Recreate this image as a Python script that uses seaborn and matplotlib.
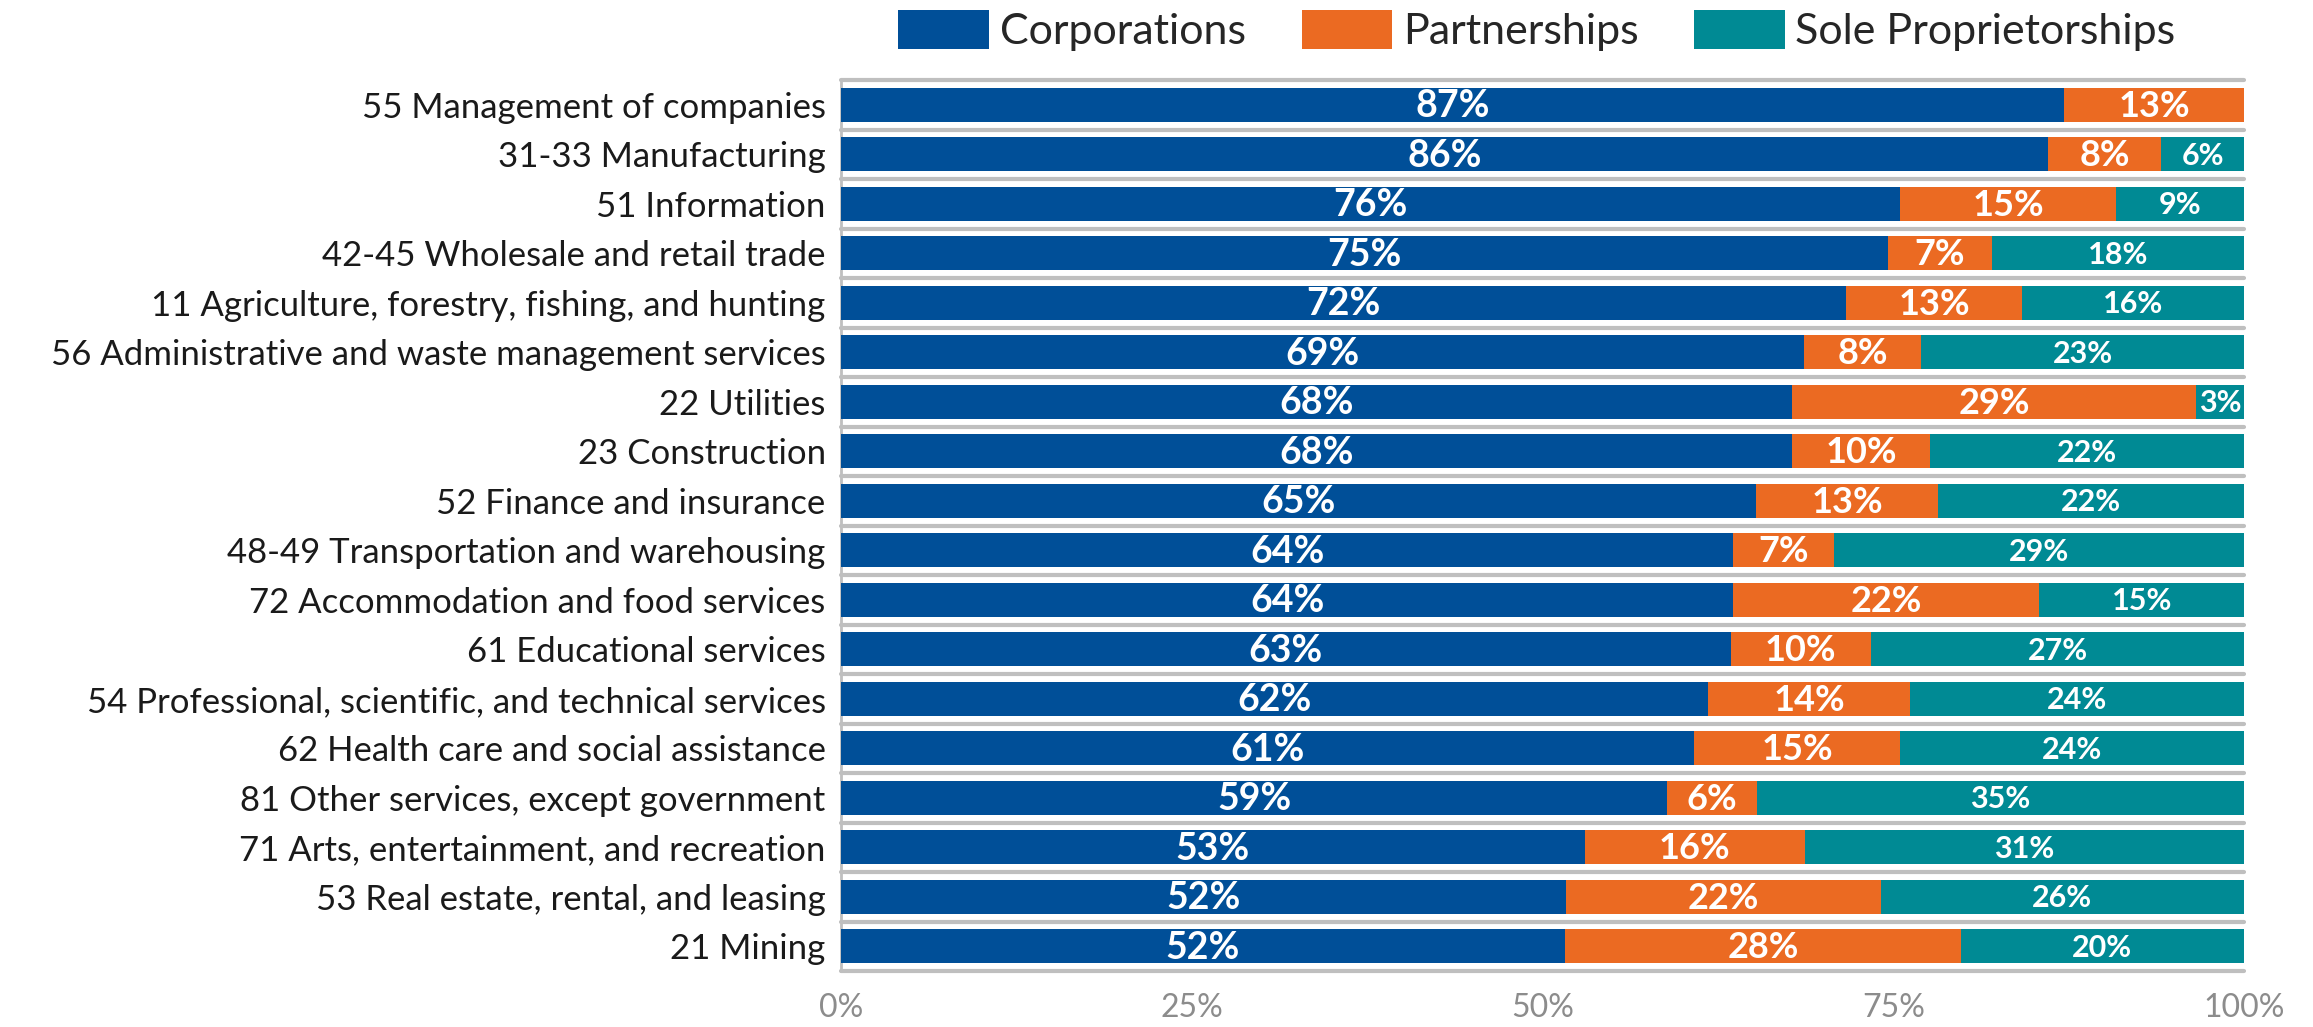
import numpy as np
import pandas as pd
import matplotlib
matplotlib.use("Agg")
import matplotlib.pyplot as plt
import seaborn as sns
from matplotlib.patches import Patch

categories = [
    "55 Management of companies",
    "31-33 Manufacturing",
    "51 Information",
    "42-45 Wholesale and retail trade",
    "11 Agriculture, forestry, fishing, and hunting",
    "56 Administrative and waste management services",
    "22 Utilities",
    "23 Construction",
    "52 Finance and insurance",
    "48-49 Transportation and warehousing",
    "72 Accommodation and food services",
    "61 Educational services",
    "54 Professional, scientific, and technical services",
    "62 Health care and social assistance",
    "81 Other services, except government",
    "71 Arts, entertainment, and recreation",
    "53 Real estate, rental, and leasing",
    "21 Mining",
]
corporations = [87.2, 86.0, 75.5, 74.6, 71.6, 68.6, 67.8, 67.8, 65.2, 63.6, 63.6, 63.4, 61.8, 60.8, 58.9, 53.0, 51.7, 51.6]
partnerships = [12.8, 8.1, 15.4, 7.4, 12.6, 8.4, 28.8, 9.8, 13.0, 7.2, 21.8, 10.0, 14.4, 14.7, 6.4, 15.7, 22.4, 28.2]
sole_props = [0.0, 5.9, 9.1, 18.0, 15.8, 23.0, 3.4, 22.4, 21.8, 29.2, 14.6, 26.6, 23.8, 24.5, 34.7, 31.3, 25.9, 20.2]
series_names = ["Corporations", "Partnerships", "Sole Proprietorships"]
x_ticks = [0, 25, 50, 75, 100]
x_tick_labels = ["0%", "25%", "50%", "75%", "100%"]

colors = ["#004F98", "#EB6A22", "#008A94"]
label_sizes = [27, 26, 22]

sns.set_theme(style="white")
plt.rcParams["font.family"] = ["Lato", "DejaVu Sans"]

df = pd.DataFrame({
    "category": categories,
    "corp": corporations,
    "part": partnerships,
    "sole": sole_props,
})
df["end_corp"] = df["corp"]
df["end_part"] = df["corp"] + df["part"]
df["end_sole"] = df["corp"] + df["part"] + df["sole"]

fig = plt.figure(figsize=(23.13, 10.27), dpi=100)
ax = fig.add_axes([0.3636, 0.0545, 0.9702 - 0.3636, 0.9221 - 0.0545])

bar_h = 0.69
for col, c in zip(["end_sole", "end_part", "end_corp"], colors[::-1]):
    sns.barplot(data=df, x=col, y="category", color=c, orient="h",
                width=bar_h, ax=ax, saturation=1, linewidth=0, zorder=3)

# value labels
for i, row in df.iterrows():
    left = 0.0
    for j, key in enumerate(["corp", "part", "sole"]):
        v = row[key]
        if v > 0.5:
            ax.text(left + v / 2, i + 0.03, f"{round(v)}%", ha="center", va="center",
                    color="white", fontsize=label_sizes[j], fontweight="bold", zorder=5)
        left += v

n = len(categories)
ax.set_xlim(0, 100)
ax.set_ylim(n - 0.5, -0.5)
ax.set_xlabel("")
ax.set_ylabel("")
ax.set_xticks(x_ticks)
ax.set_xticklabels(x_tick_labels, color="#8C8C8C", fontsize=23)
ax.tick_params(axis="x", length=0, pad=16)
ax.tick_params(axis="y", which="major", length=0, pad=11, labelsize=25, labelcolor="#1a1a1a")
ax.set_yticks(np.arange(-0.5, n, 1.0), minor=True)
ax.tick_params(axis="y", which="minor", length=5, width=2, color="#BFBFBF")
ax.grid(False)
for yb in np.arange(-0.5, n, 1.0):
    ax.axhline(yb, color="#BFBFBF", lw=3, zorder=1, clip_on=False)
for s in ["top", "right", "bottom"]:
    ax.spines[s].set_visible(False)
ax.spines["left"].set_color("#BFBFBF")
ax.spines["left"].set_linewidth(2)

handles = [Patch(facecolor=c, edgecolor="none") for c in colors]
fig.legend(handles, series_names, loc="center", bbox_to_anchor=(0.6645, 0.970),
           ncol=3, frameon=False, fontsize=31, handlelength=2.1, handleheight=1.0,
           handletextpad=0.25, columnspacing=1.3, borderaxespad=0)

fig.savefig("out.png", dpi=100)
